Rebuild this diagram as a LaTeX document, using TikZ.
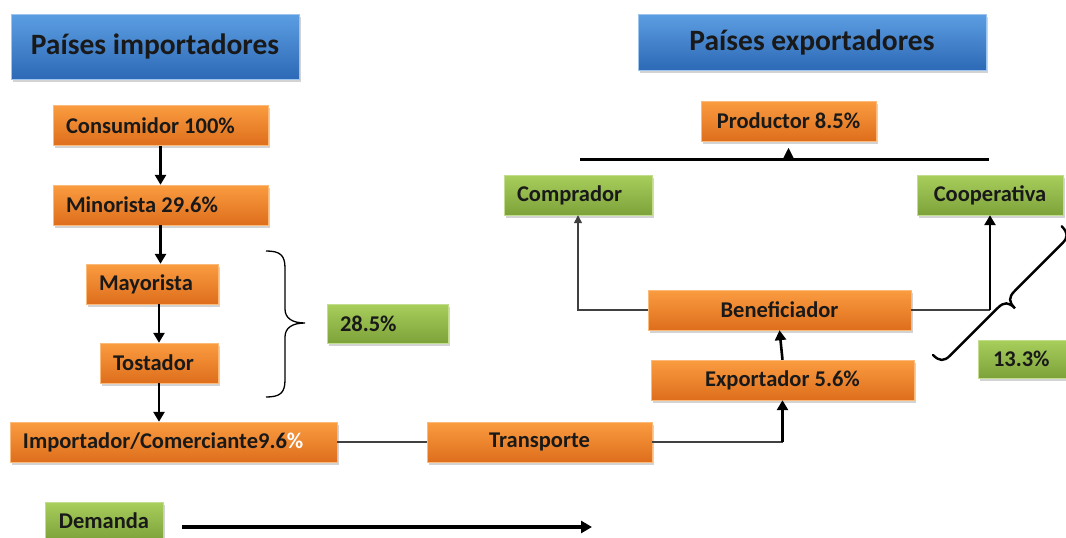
\documentclass[tikz,border=0pt]{standalone}
\usepackage{fontspec}
\setmainfont{Carlito}
\usetikzlibrary{positioning,arrows.meta,shadows}

\definecolor{naranjaA}{HTML}{FA9C40}
\definecolor{naranjaB}{HTML}{DE6E1C}
\definecolor{verdeA}{HTML}{A8CE5C}
\definecolor{verdeB}{HTML}{7DA23A}
\definecolor{azulA}{HTML}{5C9EE2}
\definecolor{azulB}{HTML}{2D69B6}

\begin{document}
\begin{tikzpicture}[x=1pt,y=-1pt]
	\tikzstyle{every node}+=[inner sep=0pt, font=\bfseries\fontsize{22.5}{26}\selectfont, text=black!90]
	\tikzstyle{caja}=[minimum height=40pt, drop shadow={opacity=0.35, shadow xshift=2pt, shadow yshift=-2.5pt}]
	\tikzstyle{naranja}=[caja, draw=naranjaA!70!white, top color=naranjaA, bottom color=naranjaB]
	\tikzstyle{verde}=[caja, draw=verdeA!70!white, top color=verdeA, bottom color=verdeB]
	\tikzstyle{izq}=[inner xsep=13pt]
	\tikzstyle{titulo}=[caja, draw=azulA!60!white, top color=azulA, bottom color=azulB, font=\bfseries\fontsize{29.5}{34}\selectfont]
	\tikzstyle{gruesa}=[line width=2.6pt, -{Triangle[length=10pt,width=11pt]}]
	\tikzstyle{delgada}=[line width=1.3pt, black!75]
	\useasboundingbox (0,0) rectangle (1066,538);
	% titulos
	\node[titulo, minimum width=288pt, minimum height=65pt] (timp) at (155,46.5) {Países importadores};
	\node[titulo, minimum width=348pt, minimum height=56pt] (texp) at (812,42) {Países exportadores};
	% paises importadores
	\node[naranja, izq] (cons) at (160.5,125.5) {\makebox[189pt][l]{Consumidor 100\%}};
	\node[naranja, izq] (mino) at (160.5,205) {\makebox[189pt][l]{Minorista 29.6\%}};
	\node[naranja, izq] (mayo) at (152,284) {\makebox[106pt][l]{Mayorista}};
	\node[naranja, izq] (tost) at (159,363) {\makebox[92pt][l]{Tostador}};
	\node[naranja, izq] (impo) at (173.5,442) {\makebox[301pt][l]{Importador/Comerciante9.6\textcolor{white}{\%}}};
	\node[verde, izq, minimum height=39pt] (g285) at (387.5,323.5) {\makebox[95pt][l]{28.5\%}};
	\node[verde, minimum width=118pt, minimum height=38pt] (dem) at (104,521) {Demanda};
	% paises exportadores
	\node[naranja, minimum width=225pt] (trans) at (539.5,442) {Transporte};
	\node[naranja, minimum width=175pt] (prod) at (788.5,121) {Productor 8.5\%};
	\node[verde, izq] (comp) at (578,195) {\makebox[122pt][l]{Comprador}};
	\node[verde, minimum width=146pt] (coop) at (990,195) {Cooperativa};
	\node[naranja, minimum width=263pt] (bene) at (779.5,310) {Beneficiador};
	\node[naranja, minimum width=263pt] (expo) at (782.5,380) {Exportador 5.6\%};
	\node[verde, minimum height=38pt, inner xsep=15pt] (g133) at (1030,359) {\makebox[74pt][l]{13.3\%}};
	% flechas
	\draw[gruesa] (cons) -- (mino);
	\draw[gruesa] (mino.south) -- (mino.south |- mayo.north);
	\draw[gruesa] (tost.north |- mayo.south) -- (tost.north);
	\draw[gruesa] (tost.south) -- (tost.south |- impo.north);
	\draw[delgada] (impo.east) -- (trans.west);
	\draw[delgada] (trans.east) -- (trans.east -| expo.south);
	\draw[gruesa] (trans.east -| expo.south) -- (expo.south);
	\draw[gruesa] (expo.north) -- (bene.south);
	\draw[delgada, -{Triangle[length=8pt,width=8pt]}] (bene.west) -| (comp.south);
	\draw[delgada] (bene.east) -- (bene.east -| coop.south);
	\draw[gruesa] (bene.east -| coop.south) -- (coop.south);
	\coordinate (lizq) at (580,159);
	\coordinate (lder) at (989,159);
	\draw[line width=3pt] (lizq) -- (lder);
	\draw[-{Triangle[length=10pt,width=10pt]}] (prod.south |- lder) -- ++(0,-11);
	\coordinate (dfin) at (592,527);
	\draw[line width=3.5pt, -{Triangle[length=11pt,width=12pt]}] ([xshift=19pt,yshift=-6pt]dem.east) -- (dfin);
	% llaves
	\draw[line width=1.3pt] (266,251) .. controls (280,251) and (285,255) .. (285,268) -- (285,309)
		.. controls (285,318) and (292,323) .. (305,323) .. controls (292,323) and (285,328) .. (285,337)
		-- (285,380) .. controls (285,393) and (280,397) .. (266,397);
	\begin{scope}[shift={(933,355)}, x={(0.7071pt,0.7071pt)}, y={(0.7071pt,-0.7071pt)}]
		\draw[line width=2.4pt, line cap=round] (0,0) .. controls (0,9) and (3,12.5) .. (12,12.5) -- (79,12.5)
			.. controls (88,12.5) and (91,16) .. (91,25) .. controls (91,16) and (94,12.5) .. (103,12.5)
			-- (170,12.5) .. controls (179,12.5) and (182,9) .. (182,0);
	\end{scope}
\end{tikzpicture}
\end{document}
